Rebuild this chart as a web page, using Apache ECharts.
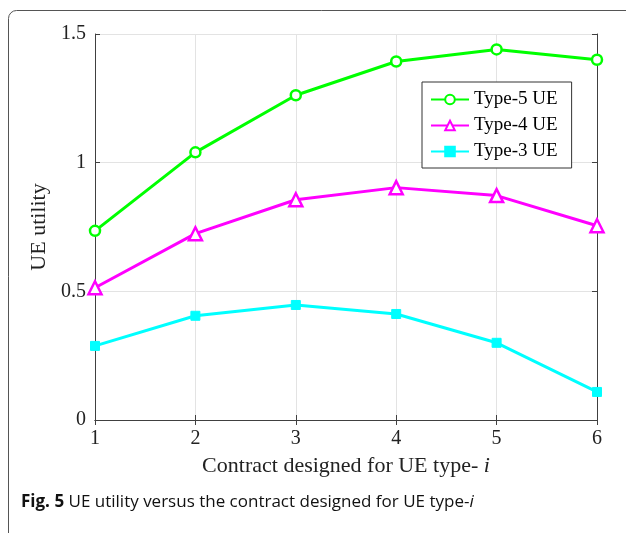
<!DOCTYPE html>
<html><head><meta charset="utf-8">
<script src="https://cdn.jsdelivr.net/npm/echarts@6/dist/echarts.min.js"></script>
<style>html,body{margin:0;padding:0;background:#fff}#c{width:626px;height:533px}</style>
</head><body><div id="c"></div>
<script>
const xValues = [1, 2, 3, 4, 5, 6];
const type5 = [0.735, 1.040, 1.262, 1.393, 1.440, 1.400];
const type4 = [0.514, 0.724, 0.856, 0.903, 0.872, 0.755];
const type3 = [0.288, 0.405, 0.447, 0.412, 0.300, 0.109];
const seriesNames = ['Type-5 UE', 'Type-4 UE', 'Type-3 UE'];
const xTitle = 'Contract designed for UE type- {i|i}';
const yTitle = 'UE utility';

const chart = echarts.init(document.getElementById('c'), null, {renderer: 'canvas'});
const serif = 'Liberation Serif';
const pair = arr => arr.map((v, i) => [xValues[i], v]);
const axisCommon = {
  axisLine: {show: true, lineStyle: {color: '#404040', width: 1}},
  axisTick: {show: true, inside: true, length: 5, lineStyle: {color: '#404040'}},
};
chart.setOption({
  animation: false,
  grid: {left: 95, right: 29, top: 34, bottom: 113, containLabel: false},
  legend: {
    data: seriesNames, orient: 'vertical', left: 422, top: 82,
    itemWidth: 38, itemHeight: 12, itemGap: 7,
    padding: [8, 14, 7, 8],
    backgroundColor: '#fff', borderColor: '#333', borderWidth: 1,
    textStyle: {fontFamily: serif, fontSize: 19, color: '#000'}
  },
  xAxis: [{
    type: 'value', min: 1, max: 6, interval: 1, position: 'bottom',
    ...axisCommon,
    splitLine: {show: true, lineStyle: {color: '#e3e3e3'}},
    axisLabel: {fontFamily: serif, fontSize: 20, color: '#222', margin: 9}
  }, {
    type: 'value', min: 1, max: 6, interval: 1, position: 'top',
    ...axisCommon, axisLabel: {show: false}, splitLine: {show: false}
  }],
  yAxis: [{
    type: 'value', min: 0, max: 1.5, interval: 0.5, position: 'left',
    ...axisCommon,
    splitLine: {show: true, lineStyle: {color: '#e3e3e3'}},
    axisLabel: {fontFamily: serif, fontSize: 20, color: '#222', margin: 9},
    name: yTitle, nameLocation: 'middle', nameGap: 44, nameRotate: 90,
    nameTextStyle: {fontFamily: serif, fontSize: 22, color: '#222'}
  }, {
    type: 'value', min: 0, max: 1.5, interval: 0.5, position: 'right',
    ...axisCommon, axisLabel: {show: false}, splitLine: {show: false}
  }],
  series: [{
    name: seriesNames[0], type: 'line', data: pair(type5),
    symbol: 'circle', symbolSize: 10, showAllSymbol: true,
    lineStyle: {color: '#00ff00', width: 3},
    itemStyle: {color: '#fff', borderColor: '#00ff00', borderWidth: 2.5},
    z: 3
  }, {
    name: seriesNames[1], type: 'line', data: pair(type4),
    symbol: 'triangle', symbolSize: 13,
    lineStyle: {color: '#ff00ff', width: 3},
    itemStyle: {color: '#fff', borderColor: '#ff00ff', borderWidth: 2.5},
    z: 3
  }, {
    name: seriesNames[2], type: 'line', data: pair(type3),
    symbol: 'rect', symbolSize: 9,
    lineStyle: {color: '#00ffff', width: 3},
    itemStyle: {color: '#00ffff', borderColor: '#00ffff', borderWidth: 1},
    z: 3
  }],
  graphic: [
    {type: 'rect', left: 6, top: 8, z: -10, silent: true,
      shape: {width: 640, height: 560, r: 8},
      style: {fill: 'none', stroke: '#555', lineWidth: 1}},
    {type: 'text', x: 346, y: 455, z: 10,
      style: {text: xTitle, textAlign: 'center',
        font: '22px "Liberation Serif"', fill: '#222',
        rich: {i: {font: 'italic 22px "Liberation Serif"', fill: '#222'}}}},
    {type: 'text', left: 21, top: 494, z: 10,
      style: {text: '{b|Fig. 5} UE utility versus the contract designed for UE type-{i|i}',
        font: '17px "Open Sans"', fill: '#111',
        rich: {b: {font: 'bold 17px "Open Sans"', fill: '#111'},
               i: {font: 'italic 17px "Open Sans"', fill: '#111'}}}}
  ]
});
</script></body></html>
